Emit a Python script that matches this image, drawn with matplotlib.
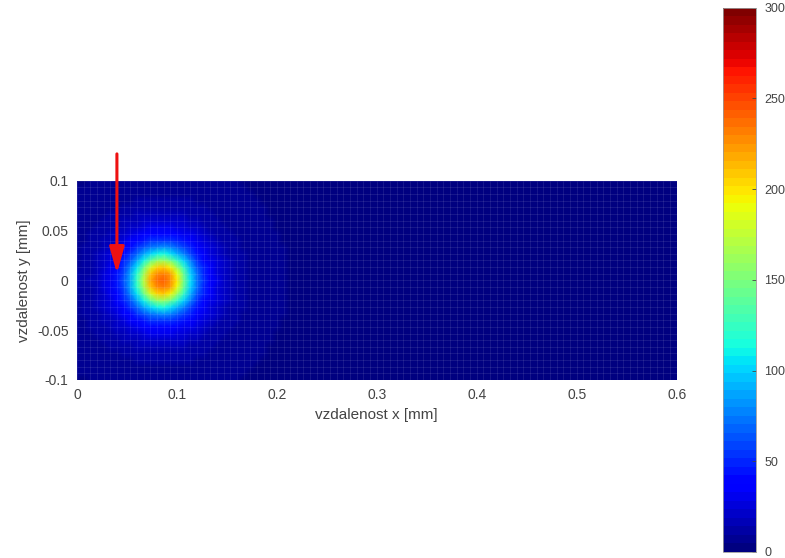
import numpy as np
import matplotlib.pyplot as plt

plt.rcParams['font.family'] = ['Liberation Sans', 'DejaVu Sans']

# radial temperature profile around the heat source (distance in mm, value)
radius = [0.0, 0.006, 0.010, 0.014, 0.017, 0.020, 0.024, 0.028, 0.033,
          0.040, 0.048, 0.060, 0.075, 0.100, 0.140, 0.200, 0.300, 0.700]
temperature = [242, 236, 224, 204, 184, 160, 132, 106, 82,
               56, 37, 22, 12, 6, 4, 2, 1.5, 1.5]
source_x = 0.085
source_y = 0.0

# mesh extents [mm] and number of elements
x_limits = [0.0, 0.6]
y_limits = [-0.1, 0.1]
nx, ny = 90, 30

# red marker arrow (start, tip)
arrow_start = (0.040, 0.127)
arrow_tip = (0.040, 0.007)

x_nodes = np.linspace(x_limits[0], x_limits[1], nx + 1)
y_nodes = np.linspace(y_limits[0], y_limits[1], ny + 1)
X, Y = np.meshgrid(x_nodes, y_nodes)
R = np.hypot(X - source_x, Y - source_y)
T = np.interp(R, radius, temperature)

cmap = plt.get_cmap('jet', 64)

fig = plt.figure(figsize=(7.85, 5.58), dpi=100)
ax = fig.add_axes([0.098, 0.319, 0.764, 0.357])
mesh = ax.pcolormesh(X, Y, T, cmap=cmap, vmin=0, vmax=300, shading='gouraud')
# faint element edges on top of the smooth field
ax.vlines(x_nodes, y_limits[0], y_limits[1], colors='white', alpha=0.11, lw=0.6)
ax.hlines(y_nodes, x_limits[0], x_limits[1], colors='white', alpha=0.11, lw=0.6)

ax.set_xlim(x_limits)
ax.set_ylim(y_limits)
ax.set_xticks([0, 0.1, 0.2, 0.3, 0.4, 0.5, 0.6])
ax.set_xticklabels(['0', '0.1', '0.2', '0.3', '0.4', '0.5', '0.6'])
ax.set_yticks([-0.1, -0.05, 0, 0.05, 0.1])
ax.set_yticklabels(['-0.1', '-0.05', '0', '0.05', '0.1'])
ax.tick_params(length=0, labelsize=10, colors='#444444', pad=6)
for s in ax.spines.values():
    s.set_visible(False)
ax.set_xlabel('vzdalenost x [mm]', fontsize=11, color='#444444', labelpad=4)
ax.set_ylabel('vzdalenost y [mm]', fontsize=11, color='#444444', labelpad=4)

ax.annotate('', xy=arrow_tip, xytext=arrow_start, annotation_clip=False,
            arrowprops=dict(arrowstyle='-|>,head_length=1.6,head_width=0.45',
                            color='#ee1111', lw=2.2, shrinkA=0, shrinkB=0))

cax = fig.add_axes([0.921, 0.011, 0.042, 0.975])
cb = fig.colorbar(mesh, cax=cax, ticks=[0, 50, 100, 150, 200, 250, 300])
cb.outline.set_edgecolor('#999999')
cb.outline.set_linewidth(0.6)
cax.tick_params(direction='in', length=3, width=0.6, labelsize=9,
                colors='#444444', pad=6)

fig.savefig('out.png', dpi=100)
